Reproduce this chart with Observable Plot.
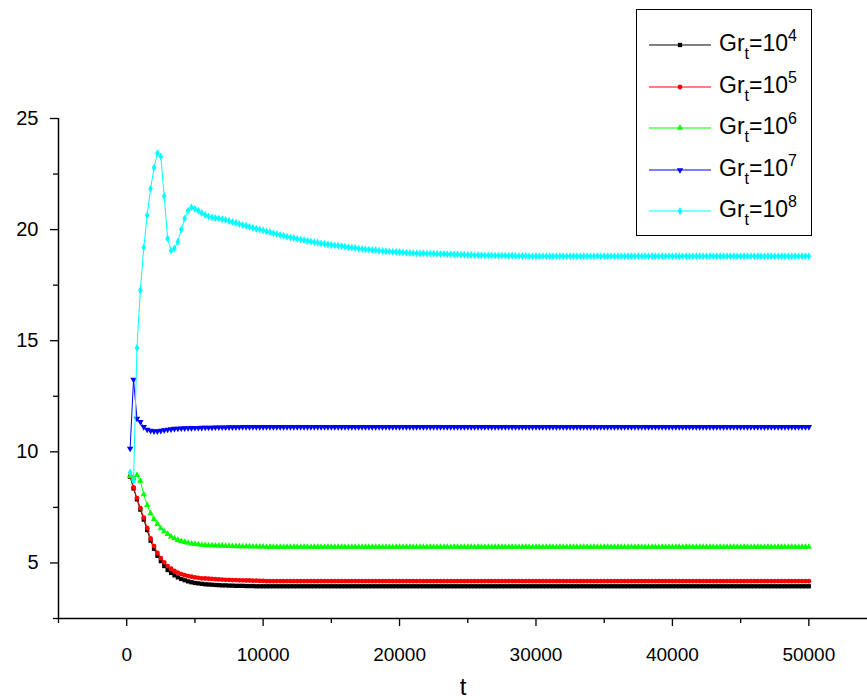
<!DOCTYPE html>
<html><head><meta charset="utf-8">
<script src="https://cdn.jsdelivr.net/npm/d3@7"></script>
<script src="https://cdn.jsdelivr.net/npm/@observablehq/plot@0.6"></script>
<style>
body{margin:0;background:#fff;}
#wrap{position:relative;width:867px;height:700px;overflow:hidden;font-family:"Liberation Sans",Arial,sans-serif;}
#legend{position:absolute;left:636px;top:9px;width:174px;height:225px;border:1.5px solid #000;background:#fff;}
.row{position:absolute;left:10px;height:30px;display:flex;align-items:center;}
.lab{font-size:23px;color:#000;margin-left:8px;line-height:1;white-space:nowrap;}
.lab sub{font-size:16px;vertical-align:-8px;}
.lab sup{font-size:16px;vertical-align:10px;}
</style></head>
<body><div id="wrap"><div id="chart"></div><div id="legend"></div></div>
<script>
// sampling grid of the simulation output
const t = d3.range(250, 50001, 250);

const seriesNames = ["Gr_t=10^4", "Gr_t=10^5", "Gr_t=10^6", "Gr_t=10^7", "Gr_t=10^8"];
const exponents = ["4", "5", "6", "7", "8"];

const gr4 = [
8.88,8.35,7.86,7.4,6.95,6.48,6.0,5.64,5.32,5.08,4.86,4.68,4.55,4.44,4.35,4.28,4.22,4.17,4.13,4.1,
4.08,4.06,4.04,4.03,4.02,4.01,4.0,3.99,3.99,3.98,3.98,3.97,3.97,3.97,3.96,3.96,3.96,3.95,3.95,3.95,
3.95,3.95,3.95,3.95,3.95,3.95,3.95,3.95,3.95,3.95,3.95,3.95,3.95,3.95,3.95,3.95,3.95,3.95,3.95,3.95,
3.95,3.95,3.95,3.95,3.95,3.95,3.95,3.95,3.95,3.95,3.95,3.95,3.95,3.95,3.95,3.95,3.95,3.95,3.95,3.95,
3.95,3.95,3.95,3.95,3.95,3.95,3.95,3.95,3.95,3.95,3.95,3.95,3.95,3.95,3.95,3.95,3.95,3.95,3.95,3.95,
3.95,3.95,3.95,3.95,3.95,3.95,3.95,3.95,3.95,3.95,3.95,3.95,3.95,3.95,3.95,3.95,3.95,3.95,3.95,3.95,
3.95,3.95,3.95,3.95,3.95,3.95,3.95,3.95,3.95,3.95,3.95,3.95,3.95,3.95,3.95,3.95,3.95,3.95,3.95,3.95,
3.95,3.95,3.95,3.95,3.95,3.95,3.95,3.95,3.95,3.95,3.95,3.95,3.95,3.95,3.95,3.95,3.95,3.95,3.95,3.95,
3.95,3.95,3.95,3.95,3.95,3.95,3.95,3.95,3.95,3.95,3.95,3.95,3.95,3.95,3.95,3.95,3.95,3.95,3.95,3.95,
3.95,3.95,3.95,3.95,3.95,3.95,3.95,3.95,3.95,3.95,3.95,3.95,3.95,3.95,3.95,3.95,3.95,3.95,3.95,3.95];

const gr5 = [
8.9,8.4,7.92,7.47,7.04,6.57,6.1,5.76,5.45,5.22,5.03,4.86,4.74,4.64,4.56,4.5,4.45,4.41,4.38,4.35,
4.33,4.31,4.3,4.29,4.28,4.27,4.26,4.25,4.24,4.24,4.23,4.23,4.22,4.22,4.21,4.21,4.2,4.2,4.19,4.19,
4.18,4.18,4.18,4.18,4.18,4.18,4.18,4.18,4.18,4.18,4.18,4.18,4.18,4.18,4.18,4.18,4.18,4.18,4.18,4.18,
4.18,4.18,4.18,4.18,4.18,4.18,4.18,4.18,4.18,4.18,4.18,4.18,4.18,4.18,4.18,4.18,4.18,4.18,4.18,4.18,
4.18,4.18,4.18,4.18,4.18,4.18,4.18,4.18,4.18,4.18,4.18,4.18,4.18,4.18,4.18,4.18,4.18,4.18,4.18,4.18,
4.18,4.18,4.18,4.18,4.18,4.18,4.18,4.18,4.18,4.18,4.18,4.18,4.18,4.18,4.18,4.18,4.18,4.18,4.18,4.18,
4.18,4.18,4.18,4.18,4.18,4.18,4.18,4.18,4.18,4.18,4.18,4.18,4.18,4.18,4.18,4.18,4.18,4.18,4.18,4.18,
4.18,4.18,4.18,4.18,4.18,4.18,4.18,4.18,4.18,4.18,4.18,4.18,4.18,4.18,4.18,4.18,4.18,4.18,4.18,4.18,
4.18,4.18,4.18,4.18,4.18,4.18,4.18,4.18,4.18,4.18,4.18,4.18,4.18,4.18,4.18,4.18,4.18,4.18,4.18,4.18,
4.18,4.18,4.18,4.18,4.18,4.18,4.18,4.18,4.18,4.18,4.18,4.18,4.18,4.18,4.18,4.18,4.18,4.18,4.18,4.18];

const gr6 = [
8.9,8.8,8.95,8.69,8.08,7.6,7.23,6.97,6.75,6.55,6.42,6.3,6.18,6.1,6.03,5.98,5.94,5.9,5.87,5.85,
5.83,5.81,5.8,5.79,5.785,5.78,5.775,5.77,5.765,5.76,5.755,5.75,5.75,5.745,5.74,5.74,5.735,5.73,5.73,5.73,
5.72,5.72,5.72,5.72,5.72,5.72,5.72,5.72,5.72,5.72,5.72,5.72,5.72,5.72,5.72,5.72,5.72,5.72,5.72,5.72,
5.72,5.72,5.72,5.72,5.72,5.72,5.72,5.72,5.72,5.72,5.72,5.72,5.72,5.72,5.72,5.72,5.72,5.72,5.72,5.72,
5.72,5.72,5.72,5.72,5.72,5.72,5.72,5.72,5.72,5.72,5.72,5.72,5.72,5.72,5.72,5.72,5.72,5.72,5.72,5.72,
5.72,5.72,5.72,5.72,5.72,5.72,5.72,5.72,5.72,5.72,5.72,5.72,5.72,5.72,5.72,5.72,5.72,5.72,5.72,5.72,
5.72,5.72,5.72,5.72,5.72,5.72,5.72,5.72,5.72,5.72,5.72,5.72,5.72,5.72,5.72,5.72,5.72,5.72,5.72,5.72,
5.72,5.72,5.72,5.72,5.72,5.72,5.72,5.72,5.72,5.72,5.72,5.72,5.72,5.72,5.72,5.72,5.72,5.72,5.72,5.72,
5.72,5.72,5.72,5.72,5.72,5.72,5.72,5.72,5.72,5.72,5.72,5.72,5.72,5.72,5.72,5.72,5.72,5.72,5.72,5.72,
5.72,5.72,5.72,5.72,5.72,5.72,5.72,5.72,5.72,5.72,5.72,5.72,5.72,5.72,5.72,5.72,5.72,5.72,5.72,5.72];

const gr7 = [
10.15,13.25,11.5,11.35,11.12,11.0,10.95,10.93,10.93,10.95,10.98,11.0,11.02,11.04,11.05,11.06,11.065,11.07,11.075,11.08,
11.08,11.085,11.09,11.09,11.095,11.1,11.1,11.1,11.105,11.11,11.11,11.11,11.115,11.12,11.12,11.12,11.12,11.12,11.12,11.12,
11.12,11.12,11.12,11.12,11.12,11.12,11.12,11.12,11.12,11.12,11.12,11.12,11.12,11.12,11.12,11.12,11.12,11.12,11.12,11.12,
11.12,11.12,11.12,11.12,11.12,11.12,11.12,11.12,11.12,11.12,11.12,11.12,11.12,11.12,11.12,11.12,11.12,11.12,11.12,11.12,
11.12,11.12,11.12,11.12,11.12,11.12,11.12,11.12,11.12,11.12,11.12,11.12,11.12,11.12,11.12,11.12,11.12,11.12,11.12,11.12,
11.12,11.12,11.12,11.12,11.12,11.12,11.12,11.12,11.12,11.12,11.12,11.12,11.12,11.12,11.12,11.12,11.12,11.12,11.12,11.12,
11.12,11.12,11.12,11.12,11.12,11.12,11.12,11.12,11.12,11.12,11.12,11.12,11.12,11.12,11.12,11.12,11.12,11.12,11.12,11.12,
11.12,11.12,11.12,11.12,11.12,11.12,11.12,11.12,11.12,11.12,11.12,11.12,11.12,11.12,11.12,11.12,11.12,11.12,11.12,11.12,
11.12,11.12,11.12,11.12,11.12,11.12,11.12,11.12,11.12,11.12,11.12,11.12,11.12,11.12,11.12,11.12,11.12,11.12,11.12,11.12,
11.12,11.12,11.12,11.12,11.12,11.12,11.12,11.12,11.12,11.12,11.12,11.12,11.12,11.12,11.12,11.12,11.12,11.12,11.12,11.12];

const gr8 = [
9.07,8.69,14.67,17.27,19.19,20.65,21.84,22.78,23.44,23.29,21.5,19.6,19.06,19.15,19.45,20.0,20.5,20.85,21.01,20.94,
20.85,20.75,20.66,20.59,20.55,20.52,20.5,20.47,20.43,20.39,20.34,20.3,20.25,20.21,20.17,20.13,20.08,20.04,20.0,19.96,
19.92,19.88,19.84,19.8,19.76,19.72,19.68,19.65,19.62,19.58,19.55,19.52,19.49,19.46,19.43,19.41,19.38,19.36,19.33,19.31,
19.29,19.27,19.25,19.23,19.21,19.19,19.17,19.15,19.13,19.11,19.1,19.08,19.07,19.05,19.04,19.03,19.01,19.0,18.99,18.98,
18.97,18.96,18.95,18.94,18.94,18.93,18.93,18.92,18.92,18.91,18.91,18.9,18.9,18.89,18.89,18.88,18.88,18.87,18.87,18.86,
18.86,18.85,18.85,18.85,18.84,18.84,18.84,18.83,18.83,18.83,18.82,18.82,18.82,18.81,18.81,18.81,18.81,18.8,18.8,18.8,
18.8,18.8,18.8,18.8,18.8,18.8,18.8,18.8,18.8,18.8,18.8,18.8,18.8,18.8,18.8,18.8,18.8,18.8,18.8,18.8,
18.8,18.8,18.8,18.8,18.8,18.8,18.8,18.8,18.8,18.8,18.8,18.8,18.8,18.8,18.8,18.8,18.8,18.8,18.8,18.8,
18.8,18.8,18.8,18.8,18.8,18.8,18.8,18.8,18.8,18.8,18.8,18.8,18.8,18.8,18.8,18.8,18.8,18.8,18.8,18.8,
18.8,18.8,18.8,18.8,18.8,18.8,18.8,18.8,18.8,18.8,18.8,18.8,18.8,18.8,18.8,18.8,18.8,18.8,18.8,18.8];

const xMajor = [0, 10000, 20000, 30000, 40000, 50000];
const xMinor = [-5000, 5000, 15000, 25000, 35000, 45000];
const yMajor = [5, 10, 15, 20, 25];
const yMinor = [2.5, 7.5, 12.5, 17.5, 22.5];

const colors = ["#000000", "#ff0000", "#00ff00", "#0000ff", "#00ffff"];
const symbols = ["square", "circle", "triangle", "triangle", "diamond"];
const rotations = [0, 0, 0, 180, 0];
const values = [gr4, gr5, gr6, gr7, gr8];

const tables = values.map(vals => t.map((tt, i) => ({t: tt, v: vals[i]})));

const seriesMarks = [];
tables.forEach((tbl, k) => {
  seriesMarks.push(Plot.line(tbl, {x: "t", y: "v", stroke: colors[k], strokeWidth: 1}));
  seriesMarks.push(Plot.dot(tbl, {x: "t", y: "v", symbol: symbols[k], fill: colors[k], stroke: "none", r: 2.4, rotate: rotations[k]}));
});

const chart = Plot.plot({
  width: 867, height: 700,
  marginLeft: 58, marginRight: 0, marginTop: 118, marginBottom: 82,
  style: {fontFamily: "Liberation Sans, Arial, sans-serif", fontSize: "16px", color: "#000", background: "#fff", overflow: "visible"},
  x: {domain: [-5000, 54300]},
  y: {domain: [2.5, 25]},
  marks: [
    Plot.axisX({ticks: xMajor, tickSize: 8, tickPadding: 21, tickFormat: d => String(d), label: null, fontSize: 19, strokeWidth: 1.3}),
    Plot.axisX({ticks: xMinor, tickSize: 5, tickFormat: () => "", label: null, strokeWidth: 1.3}),
    Plot.axisY({ticks: yMajor, tickSize: 8, tickPadding: 12, tickFormat: d => String(d), label: null, fontSize: 20, strokeWidth: 1.3}),
    Plot.axisY({ticks: yMinor, tickSize: 5, tickFormat: () => "", label: null, strokeWidth: 1.3}),
    Plot.ruleX([-5000], {stroke: "#000", strokeWidth: 1.5}),
    Plot.ruleY([2.5], {stroke: "#000", strokeWidth: 1.5}),
    Plot.text(["t"], {frameAnchor: "bottom", dy: 76, fontSize: 24, fill: "#000"}),
    ...seriesMarks
  ]
});
document.getElementById("chart").appendChild(chart);

// legend
const legend = document.getElementById("legend");
const d3Symbols = [d3.symbolSquare, d3.symbolCircle, d3.symbolTriangle, d3.symbolTriangle, d3.symbolDiamond];
const rowCenters = [34.5, 76.5, 117.5, 159.5, 200.5];
seriesNames.forEach((name, k) => {
  const row = document.createElement("div");
  row.className = "row";
  row.style.top = (rowCenters[k] - 15) + "px";
  const path = d3.symbol(d3Symbols[k], 18)();
  row.innerHTML = `<svg width="64" height="20" style="display:block"><line x1="2" x2="64" y1="10" y2="10" stroke="${colors[k]}" stroke-width="1.2"/><path d="${path}" transform="translate(33,10) rotate(${rotations[k]})" fill="${colors[k]}"/></svg><span class="lab">Gr<sub>t</sub>=10<sup>${exponents[k]}</sup></span>`;
  legend.appendChild(row);
});
</script>
</body></html>
